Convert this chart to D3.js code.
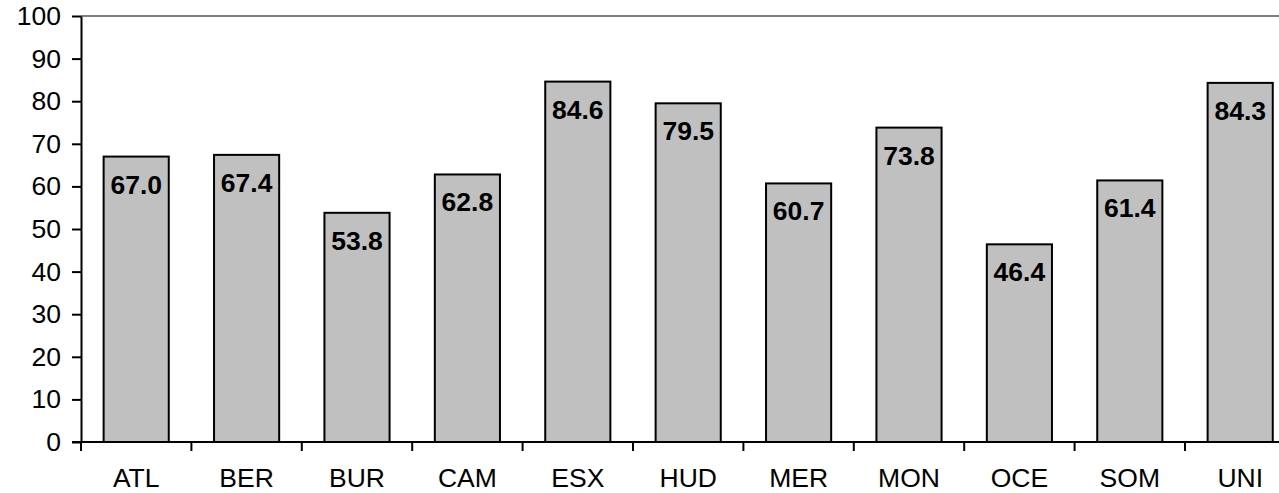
<!DOCTYPE html>
<html>
<head>
<meta charset="utf-8">
<script src="https://cdn.jsdelivr.net/npm/d3@7"></script>
<style>
  html, body { margin: 0; padding: 0; background: #fff; }
  svg { display: block; font-family: "Liberation Sans", Arial, sans-serif; }
</style>
</head>
<body>
<svg id="chart" width="1279" height="493"></svg>
<script>
const categories = ["ATL", "BER", "BUR", "CAM", "ESX", "HUD", "MER", "MON", "OCE", "SOM", "UNI"];
const values = [67.0, 67.4, 53.8, 62.8, 84.6, 79.5, 60.7, 73.8, 46.4, 61.4, 84.3];
const yTicks = [0, 10, 20, 30, 40, 50, 60, 70, 80, 90, 100];

(function () {
const svg = d3.select("#chart");
const W = 1279;
const mLeft = 81, mTop = 16, mBottom = 442;
const step = 110.4;
const mRight = mLeft + categories.length * step;
const fs = 26.5;

const x = d3.scaleBand().domain(categories).range([mLeft, mRight]).paddingInner(0.41).paddingOuter(0.205);
const y = d3.scaleLinear().domain([0, 100]).range([mBottom, mTop]);

// top gray border
svg.append("line")
  .attr("x1", mLeft).attr("x2", W)
  .attr("y1", y(100)).attr("y2", y(100))
  .attr("stroke", "#808080").attr("stroke-width", 2);

// bars
svg.append("g").selectAll("rect")
  .data(categories)
  .join("rect")
  .attr("x", d => x(d))
  .attr("y", (d, i) => y(values[i]))
  .attr("width", x.bandwidth())
  .attr("height", (d, i) => y(0) - y(values[i]))
  .attr("fill", "#C0C0C0")
  .attr("stroke", "#000")
  .attr("stroke-width", 2);

// value labels
svg.append("g").selectAll("text")
  .data(categories)
  .join("text")
  .attr("x", d => x(d) + x.bandwidth() / 2)
  .attr("y", (d, i) => y(values[i]) + 37)
  .attr("text-anchor", "middle")
  .attr("font-size", fs)
  .attr("font-weight", "bold")
  .attr("fill", "#000")
  .text((d, i) => values[i].toFixed(1));

// y axis
const yAxis = svg.append("g")
  .attr("transform", `translate(${mLeft},0)`)
  .call(d3.axisLeft(y).tickValues(yTicks).tickSize(9).tickPadding(11).tickSizeOuter(0));
yAxis.select(".domain").attr("stroke", "#000").attr("stroke-width", 2);
yAxis.selectAll(".tick line").attr("stroke", "#000").attr("stroke-width", 2);
yAxis.selectAll(".tick text").attr("font-size", fs).attr("font-family", "Liberation Sans, Arial, sans-serif").attr("fill", "#000");

// x axis (labels)
const xAxis = svg.append("g")
  .attr("transform", `translate(0,${mBottom})`)
  .call(d3.axisBottom(x).tickSize(0).tickPadding(26).tickSizeOuter(0));
xAxis.select(".domain").remove();
xAxis.selectAll(".tick text").attr("font-size", fs).attr("font-family", "Liberation Sans, Arial, sans-serif").attr("fill", "#000");

// x axis line
svg.append("line")
  .attr("x1", mLeft - 9).attr("x2", W)
  .attr("y1", mBottom).attr("y2", mBottom)
  .attr("stroke", "#000").attr("stroke-width", 2);

// boundary ticks
const boundaries = d3.range(categories.length + 1).map(i => i === categories.length ? mRight : x(categories[i]) - x.step() * x.paddingInner() / 2);
svg.append("g").selectAll("line")
  .data(boundaries)
  .join("line")
  .attr("x1", d => d).attr("x2", d => d)
  .attr("y1", mBottom).attr("y2", mBottom + 9)
  .attr("stroke", "#000").attr("stroke-width", 2);
})();
</script>
</body>
</html>
